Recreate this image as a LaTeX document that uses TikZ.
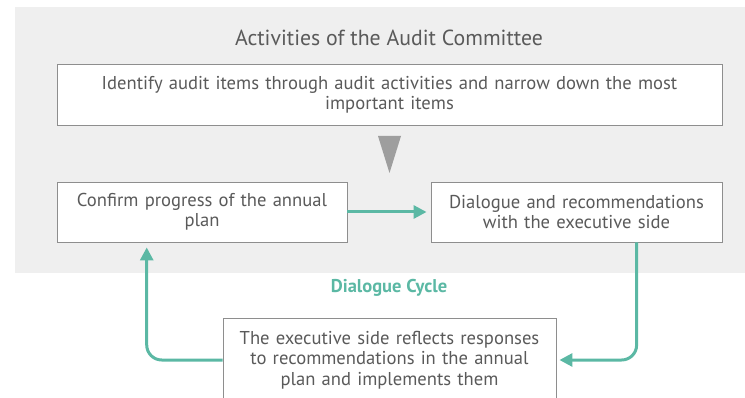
\documentclass[tikz,border=0pt]{standalone}
\usepackage{fontspec}
\setmainfont{PT Sans}
\usetikzlibrary{arrows.meta,calc}
\definecolor{teal1}{HTML}{5BB8A4}
\definecolor{bgray}{HTML}{EFEFEF}
\definecolor{bord}{HTML}{8E8E8E}
\definecolor{txt}{HTML}{5A5A5A}
\definecolor{tri}{HTML}{9E9E9E}
\begin{document}
\begin{tikzpicture}[x=1pt,y=-1pt,
  box/.style={draw=bord,line width=0.9pt,fill=white,text=txt,align=center,inner sep=0pt,font=\fontsize{18.6}{19.8}\selectfont},
  conn/.style={draw=teal1,line width=3pt,-{Triangle[length=13pt,width=13pt]}},
]
\useasboundingbox (0,0) rectangle (745,398);
\clip (0,0) rectangle (745,398);
\fill[bgray] (15,7) rectangle (745,273);
\node[text=txt,font=\fontsize{21.8}{24}\selectfont] (title) at (389,38) {Activities of the Audit Committee};
\node[box,minimum width=665pt,minimum height=61pt,text width=650pt] (top) at (389.5,95) {Identify audit items through audit activities and narrow down the most\\important items};
\fill[tri] (378,136) -- (401,136) -- (389.5,173) -- cycle;
\node[box,minimum width=290pt,minimum height=60pt,text width=285pt] (l) at (202,212) {Confirm progress of the annual\\plan};
\node[box,minimum width=291pt,minimum height=60pt,text width=285pt] (r) at (576.5,212) {Dialogue and recommendations\\with the executive side};
\node[text=teal1,font=\fontsize{18.5}{20}\selectfont\bfseries] (cyc) at (389,288) {Dialogue Cycle};
\node[box,minimum width=333pt,minimum height=84pt,text width=328pt,font=\fontsize{18.6}{20.5}\selectfont] (b) at (389.5,360) {The executive side reflects responses\\to recommendations in the annual\\plan and implements them};
\draw[conn,shorten >=4pt] (l.east) -- (r.west);
\coordinate (rs) at ($(r.south west)!0.706!(r.south east)$);
\draw[conn,rounded corners=15pt,shorten >=3pt] (rs) |- (b.east);
\draw[conn,rounded corners=15pt,shorten >=5pt] (b.west) -| ($(l.south west)!0.31!(l.south east)$);
\end{tikzpicture}
\end{document}
